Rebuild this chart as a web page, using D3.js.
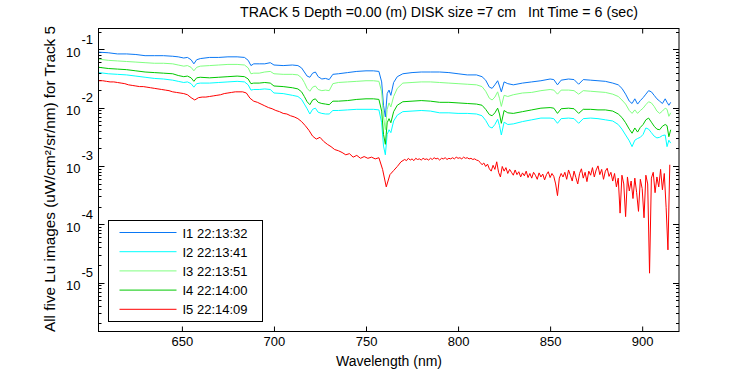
<!DOCTYPE html>
<html>
<head>
    <meta charset="utf-8">
    <title>Track 5 Lu spectra</title>
    <script src="https://d3js.org/d3.v7.min.js"></script>
    <style>
        html, body { margin: 0; padding: 0; background: #fff; }
        text { font-family: 'Liberation Sans', Arial, sans-serif; fill: #000; }
    </style>
</head>
<body>
<div id="chart"></div>
<script>
    // wavelength samples (nm) for the four smooth spectra
    const waveA = [605, 610, 615, 620, 625, 630, 635, 640, 645, 648, 651, 653, 655, 656.5, 658, 660, 665, 670, 675, 680,
        684, 686, 687.5, 689, 692, 695, 698, 700, 705, 710, 713, 715, 716.5, 718, 719.5, 721, 722.5, 724, 726, 728,
        730, 732, 735, 740, 745, 750, 754, 757, 758.5, 759.5, 760.5, 761.5, 762.5, 763.5, 765, 767, 770, 775, 780, 785,
        790, 795, 800, 805, 810, 813, 815, 817, 818.5, 820, 821.5, 822.5, 823.5, 825, 827, 830, 835, 840, 845, 850,
        852, 854, 856, 860, 863, 865.5, 868, 872, 876, 880, 884, 887, 889, 891, 893, 894.5, 896, 897.5, 899, 900.5,
        902, 903.5, 905, 906.5, 908, 909.5, 911, 912.5, 913.5, 914.5, 915.5];

    // log10 of Lu for each image
    const logI1 = [-1.04, -1.05, -1.07, -1.07, -1.08, -1.10, -1.10, -1.10, -1.11, -1.12, -1.14, -1.13, -1.17, -1.24, -1.17, -1.15, -1.13, -1.13, -1.12, -1.12,
        -1.13, -1.18, -1.27, -1.24, -1.24, -1.24, -1.22, -1.26, -1.27, -1.26, -1.27, -1.31, -1.38, -1.45, -1.47, -1.40, -1.38, -1.46, -1.50, -1.49,
        -1.51, -1.42, -1.41, -1.39, -1.37, -1.36, -1.36, -1.37, -1.55, -1.95, -2.15, -1.75, -1.69, -1.78, -1.56, -1.46, -1.41, -1.39, -1.38, -1.38,
        -1.38, -1.39, -1.41, -1.43, -1.43, -1.46, -1.52, -1.64, -1.66, -1.60, -1.53, -1.62, -1.72, -1.55, -1.58, -1.60, -1.57, -1.55, -1.53, -1.50,
        -1.51, -1.60, -1.52, -1.50, -1.51, -1.59, -1.51, -1.52, -1.53, -1.54, -1.57, -1.60, -1.66, -1.76, -1.88, -1.92, -1.84, -1.93, -1.87, -1.82,
        -1.76, -1.70, -1.72, -1.78, -1.84, -1.88, -1.92, -1.84, -1.90, -1.95, -1.90];
    const logI2 = [-1.39, -1.41, -1.42, -1.43, -1.45, -1.47, -1.49, -1.50, -1.52, -1.54, -1.56, -1.55, -1.58, -1.64, -1.58, -1.57, -1.57, -1.56, -1.55, -1.54,
        -1.55, -1.60, -1.69, -1.68, -1.68, -1.67, -1.68, -1.74, -1.75, -1.78, -1.80, -1.85, -1.93, -2.01, -2.10, -2.02, -2.00, -2.07, -2.09, -2.10,
        -2.10, -2.04, -2.04, -2.03, -2.02, -2.02, -2.02, -2.03, -2.25, -2.65, -2.80, -2.45, -2.37, -2.42, -2.22, -2.12, -2.06, -2.05, -2.04, -2.05,
        -2.08, -2.08, -2.09, -2.09, -2.10, -2.13, -2.21, -2.32, -2.34, -2.28, -2.19, -2.30, -2.46, -2.24, -2.28, -2.27, -2.23, -2.20, -2.17, -2.17,
        -2.18, -2.26, -2.18, -2.17, -2.18, -2.26, -2.18, -2.17, -2.18, -2.20, -2.22, -2.28, -2.36, -2.46, -2.56, -2.66, -2.55, -2.52, -2.50, -2.45,
        -2.34, -2.36, -2.42, -2.48, -2.51, -2.50, -2.47, -2.46, -2.66, -2.55, -2.60];
    const logI3 = [-1.16, -1.18, -1.19, -1.20, -1.21, -1.22, -1.23, -1.23, -1.24, -1.26, -1.28, -1.27, -1.30, -1.36, -1.30, -1.28, -1.27, -1.26, -1.25, -1.25,
        -1.26, -1.31, -1.41, -1.40, -1.40, -1.38, -1.37, -1.41, -1.42, -1.42, -1.43, -1.48, -1.56, -1.66, -1.71, -1.64, -1.62, -1.68, -1.70, -1.69,
        -1.70, -1.58, -1.56, -1.55, -1.54, -1.53, -1.53, -1.54, -1.72, -2.15, -2.37, -2.02, -1.91, -1.98, -1.80, -1.66, -1.57, -1.56, -1.55, -1.55,
        -1.56, -1.57, -1.58, -1.59, -1.60, -1.63, -1.71, -1.83, -1.86, -1.81, -1.72, -1.83, -1.97, -1.78, -1.80, -1.77, -1.74, -1.73, -1.70, -1.68,
        -1.69, -1.76, -1.69, -1.69, -1.70, -1.76, -1.70, -1.71, -1.72, -1.73, -1.76, -1.80, -1.86, -1.93, -2.04, -2.09, -2.03, -2.09, -2.04, -2.00,
        -1.94, -1.89, -1.91, -1.97, -2.05, -2.09, -2.05, -2.00, -2.02, -2.14, -2.08];
    const logI4 = [-1.30, -1.32, -1.33, -1.34, -1.36, -1.38, -1.39, -1.40, -1.41, -1.44, -1.46, -1.45, -1.48, -1.54, -1.48, -1.47, -1.48, -1.47, -1.46, -1.45,
        -1.46, -1.50, -1.58, -1.57, -1.57, -1.56, -1.57, -1.62, -1.63, -1.65, -1.67, -1.72, -1.80, -1.89, -1.94, -1.86, -1.84, -1.90, -1.92, -1.93,
        -1.94, -1.88, -1.88, -1.87, -1.85, -1.84, -1.84, -1.85, -2.05, -2.45, -2.62, -2.25, -2.18, -2.25, -2.06, -1.95, -1.89, -1.88, -1.87, -1.88,
        -1.90, -1.90, -1.91, -1.92, -1.93, -1.95, -2.02, -2.11, -2.13, -2.08, -2.00, -2.10, -2.26, -2.04, -2.08, -2.09, -2.06, -2.03, -2.00, -1.99,
        -2.00, -2.09, -2.01, -2.00, -2.01, -2.09, -2.02, -2.02, -2.03, -2.03, -2.05, -2.10, -2.16, -2.25, -2.36, -2.43, -2.34, -2.41, -2.33, -2.28,
        -2.20, -2.17, -2.24, -2.31, -2.36, -2.37, -2.31, -2.28, -2.30, -2.49, -2.37];

    // the noisy fifth image has its own, denser wavelength samples
    const waveB = [605, 607, 609, 611, 613, 615, 617, 619, 621, 623, 625, 627, 629, 631, 633, 635, 637, 639, 641, 643,
        645, 647, 649, 651, 653, 655, 657, 659, 661, 663, 665, 667, 669, 671, 673, 675, 677, 679, 681, 683,
        685, 687, 689, 691, 693, 695, 697, 699, 701, 703, 705, 707, 709, 711, 713, 715, 717, 719, 721, 723,
        725, 727, 729, 731, 733, 735, 737, 739, 741, 743, 745, 747, 749, 751, 753, 755, 757, 759, 761, 763,
        765, 767, 769, 771, 772, 773, 774, 775, 776, 777, 778, 779, 780, 781, 782, 783, 784, 785, 786, 787,
        788, 789, 790, 791, 792, 793, 794, 795, 796, 797, 798, 799, 800, 801, 802, 803, 804, 805, 806, 807,
        808, 809, 810, 811, 812, 813, 814, 815, 816, 817, 818, 819, 820, 821, 822, 823, 824, 825, 826, 827,
        828, 829, 830, 831, 832, 833, 834, 835, 836, 837, 838, 839, 840, 841, 842, 843, 844, 845, 846, 847,
        848, 849, 850, 851, 852, 853, 854, 855, 856, 857, 858, 859, 860, 861, 862, 863, 864, 865, 866, 867,
        868, 869, 870, 871, 872, 873, 874, 875, 876, 877, 878, 879, 880, 881, 882, 883, 884, 885, 886, 887,
        888, 889, 890, 891, 892, 893, 894, 895, 896, 897, 898, 899, 900, 901, 902, 903, 904, 905, 906, 907,
        908, 909, 910, 911, 912, 913, 914, 915];
    const logI5 = [-1.53, -1.53, -1.54, -1.55, -1.55, -1.56, -1.57, -1.58, -1.60, -1.61, -1.62, -1.63, -1.63, -1.64, -1.65, -1.66, -1.67, -1.68, -1.69, -1.70,
        -1.72, -1.73, -1.74, -1.75, -1.77, -1.82, -1.86, -1.82, -1.81, -1.81, -1.80, -1.79, -1.78, -1.77, -1.75, -1.74, -1.73, -1.72, -1.72, -1.72,
        -1.74, -1.83, -1.88, -1.90, -1.93, -1.96, -1.99, -2.01, -2.04, -2.06, -2.09, -2.10, -2.13, -2.15, -2.18, -2.23, -2.30, -2.38, -2.48, -2.53,
        -2.50, -2.57, -2.62, -2.66, -2.71, -2.73, -2.76, -2.80, -2.78, -2.84, -2.81, -2.86, -2.83, -2.86, -2.84, -2.87, -2.85, -3.05, -3.35, -3.14,
        -3.07, -3.00, -2.92, -2.88, -2.90, -2.86, -2.89, -2.87, -2.90, -2.86, -2.88, -2.87, -2.89, -2.86, -2.88, -2.87, -2.89, -2.86, -2.88, -2.85,
        -2.87, -2.86, -2.89, -2.86, -2.87, -2.85, -2.88, -2.86, -2.87, -2.85, -2.87, -2.84, -2.86, -2.85, -2.87, -2.84, -2.86, -2.85, -2.87, -2.86,
        -2.88, -2.87, -2.89, -2.90, -2.93, -2.97, -2.94, -3.00, -2.96, -3.04, -3.08, -2.98, -3.05, -2.92, -3.10, -3.18, -3.00, -3.08, -3.02, -3.12,
        -3.05, -3.10, -3.15, -3.06, -3.14, -3.09, -3.18, -3.11, -3.16, -3.08, -3.19, -3.12, -3.20, -3.10, -3.15, -3.22, -3.11, -3.18, -3.13, -3.23,
        -3.14, -3.09, -3.19, -3.12, -3.17, -3.30, -3.50, -3.20, -3.12, -3.18, -3.10, -3.22, -3.06, -3.15, -3.25, -3.08, -3.19, -3.30, -3.12, -3.04,
        -3.20, -3.10, -3.26, -3.08, -3.15, -3.02, -3.18, -3.06, -2.99, -3.14, -3.05, -3.22, -3.08, -3.03, -3.17, -3.10, -3.25, -3.12, -3.35, -3.20,
        -3.80, -3.15, -3.30, -3.86, -3.18, -3.42, -3.25, -3.55, -3.20, -3.45, -3.77, -3.22, -3.38, -3.88, -3.15, -3.30, -4.83, -3.20, -3.10, -3.45,
        -3.18, -3.35, -3.05, -3.40, -3.12, -3.70, -4.43, -2.97];

    const seriesNames = ["I1 22:13:32", "I2 22:13:41", "I3 22:13:51", "I4 22:14:00", "I5 22:14:09"];
    const seriesColors = ["#0a78f5", "#00ffff", "#80ff80", "#00c800", "#ff0000"];
    const xTicks = [650, 700, 750, 800, 850, 900];
    const yDecades = [-5, -4, -3, -2, -1];

    const series = [
        { wave: waveA, vals: logI1 },
        { wave: waveA, vals: logI2 },
        { wave: waveA, vals: logI3 },
        { wave: waveA, vals: logI4 },
        { wave: waveB, vals: logI5 }
    ].map((s, i) => ({
        name: seriesNames[i],
        color: seriesColors[i],
        points: s.wave.map((w, j) => ({ w: w, v: Math.pow(10, s.vals[j]) }))
    }));

    const margin = { top: 28.5, left: 98.5 },
        width = 580.5,
        height = 303;

    const svg = d3.select("#chart").append("svg")
        .attr("width", 750)
        .attr("height", 375);

    const g = svg.append("g")
        .attr("transform", `translate(${margin.left},${margin.top})`);

    const x = d3.scaleLinear().domain([604.7, 920]).range([0, width]);
    const y = d3.scaleLog().domain([Math.pow(10, -5.83), Math.pow(10, -0.634)]).range([height, 0]);

    // x ticks point inwards, bottom and top
    g.append("g")
        .attr("transform", `translate(0,${height})`)
        .call(d3.axisBottom(x).tickValues(xTicks).tickSizeInner(-5).tickSizeOuter(0).tickPadding(5))
        .call(a => a.select(".domain").remove())
        .call(a => a.selectAll("text").style("font-size", "13px").style("font-family", "'Liberation Sans', Arial, sans-serif"));
    g.append("g")
        .call(d3.axisTop(x).tickValues(xTicks).tickSizeInner(-5).tickSizeOuter(0).tickFormat(""))
        .call(a => a.select(".domain").remove());

    // y ticks: decades long, minors short, on both sides
    const [lo, hi] = y.domain();
    const yMinor = [];
    for (let e = -6; e <= 0; e++) {
        for (let m = 2; m <= 9; m++) {
            const v = m * Math.pow(10, e);
            if (v >= lo && v <= hi) yMinor.push(v);
        }
    }
    const yMajor = yDecades.map(e => Math.pow(10, e));
    [[0, 1], [width, -1]].forEach(([x0, dir]) => {
        g.selectAll(null).data(yMinor).enter().append("line")
            .attr("x1", x0).attr("x2", x0 + dir * 3)
            .attr("y1", d => Math.round(y(d))).attr("y2", d => Math.round(y(d)))
            .attr("stroke", "#000");
        g.selectAll(null).data(yMajor).enter().append("line")
            .attr("x1", x0).attr("x2", x0 + dir * 6)
            .attr("y1", d => Math.round(y(d))).attr("y2", d => Math.round(y(d)))
            .attr("stroke", "#000");
    });

    // y tick labels as 10 with a raised exponent
    const yLab = g.selectAll(null).data(yDecades).enter().append("g");
    yLab.append("text")
        .attr("x", -18).attr("y", d => y(Math.pow(10, d)) + 7)
        .attr("text-anchor", "end")
        .style("font-size", "13px")
        .text("10");
    yLab.append("text")
        .attr("x", -17).attr("y", d => y(Math.pow(10, d)) - 6)
        .style("font-size", "13px")
        .text(d => "-" + Math.abs(d));

    // spectra
    const line = d3.line().x(d => x(d.w)).y(d => y(d.v));
    g.selectAll("path.spec")
        .data(series)
        .enter().append("path")
        .attr("class", "spec")
        .attr("d", d => line(d.points))
        .attr("fill", "none")
        .attr("stroke", d => d.color)
        .attr("stroke-width", 1);

    // axes box
    g.append("rect")
        .attr("width", width).attr("height", height)
        .attr("fill", "none").attr("stroke", "#000");

    // legend
    const legend = g.append("g").attr("transform", "translate(10,192)");
    legend.append("rect")
        .attr("width", 154).attr("height", 101)
        .attr("fill", "#fff").attr("stroke", "#000");
    series.forEach((s, i) => {
        const row = legend.append("g").attr("transform", `translate(0,${12 + i * 19.2})`);
        row.append("line")
            .attr("x1", 11).attr("x2", 68).attr("y1", 0).attr("y2", 0)
            .attr("stroke", s.color);
        row.append("text")
            .attr("x", 74).attr("y", 5)
            .style("font-size", "13px")
            .text(s.name);
    });

    // titles
    svg.append("text")
        .attr("x", 439).attr("y", 17)
        .attr("text-anchor", "middle")
        .attr("textLength", 398).attr("lengthAdjust", "spacingAndGlyphs")
        .style("font-size", "14px")
        .style("white-space", "pre")
        .text("TRACK 5 Depth =0.00 (m) DISK size =7 cm   Int Time = 6 (sec)");

    svg.append("text")
        .attr("x", 389).attr("y", 366)
        .attr("text-anchor", "middle")
        .style("font-size", "14px")
        .text("Wavelength (nm)");

    svg.append("text")
        .attr("transform", "translate(55,179) rotate(-90)")
        .attr("text-anchor", "middle")
        .attr("textLength", 306).attr("lengthAdjust", "spacingAndGlyphs")
        .style("font-size", "14px")
        .text("All five Lu images (uW/cm²/sr/nm) for Track 5");
</script>
</body>
</html>
